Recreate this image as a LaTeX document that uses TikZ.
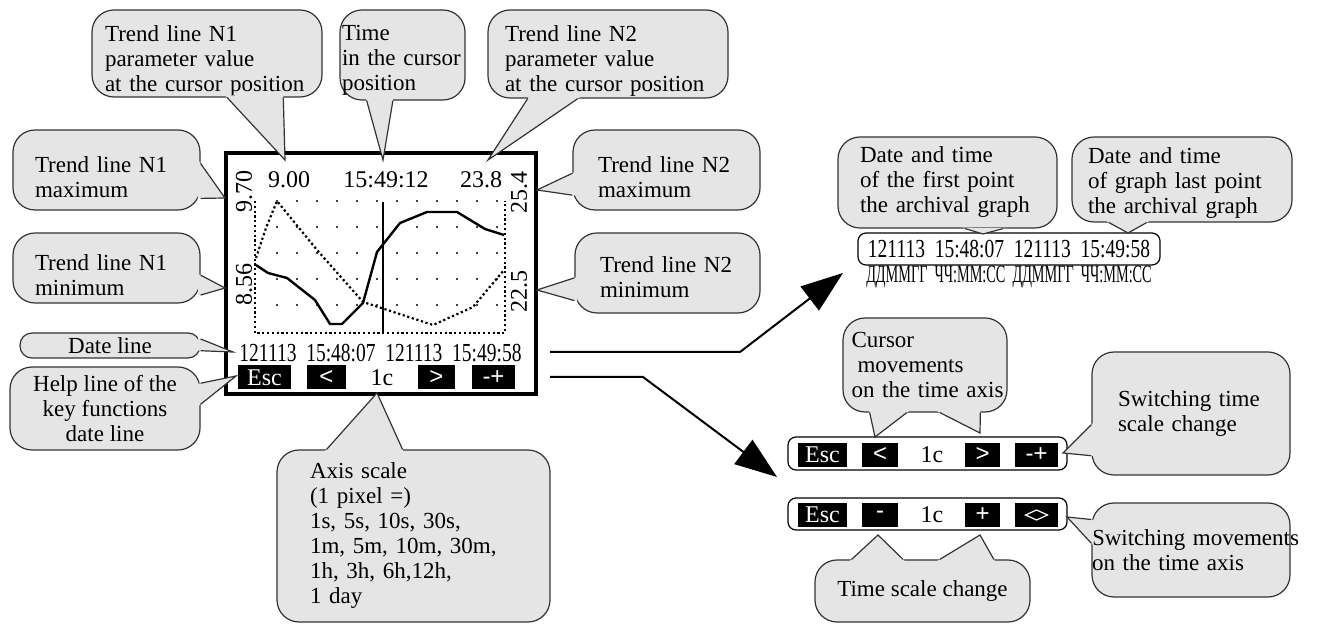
\documentclass[tikz,border=0pt]{standalone}
\usepackage{fontspec}
\setmainfont{Liberation Serif}
\newfontfamily\keyfont{Liberation Sans}
\usepackage{graphicx}
\usetikzlibrary{calc,arrows.meta}

\colorlet{bubblegray}{black!10}
\tikzset{
  bubble/.style={draw=black!80, fill=bubblegray, line width=0.6pt, rounded corners=11pt,
    inner sep=0pt, align=left, font=\fontsize{11.5}{12.5}\selectfont},
  keybox/.style={fill=black, text=white, inner sep=0pt, minimum height=12pt,
    font=\fontsize{12}{12}\selectfont},
  lcdtext/.style={inner sep=0pt, font=\fontsize{12}{12}\selectfont},
  lcddots/.style={line width=1.1pt, dash pattern=on 1.1pt off 1.3pt},
  panel/.style={draw, rounded corners=4pt, line width=0.6pt, inner sep=0pt},
  bigarrow/.style={line width=1pt, -{Triangle[length=21pt,width=15pt]}},
}
% pointer of a callout: edge from #1 to #2, base at fractions #3 and #4, tip #5
\newcommand{\bubbletail}[5]{%
  \coordinate (ta) at ($(#1)!#3!(#2)$);
  \coordinate (tb) at ($(#1)!#4!(#2)$);
  \fill[bubblegray] ($(ta)!-1.5pt!(#5)$) -- (#5) -- ($(tb)!-1.5pt!(#5)$) -- cycle;
  \draw[black!80, line width=0.6pt] (ta) -- (#5) -- (tb);
}
\newcommand{\pushdown}[1]{\rule{0pt}{#1}}
\newcommand{\datestamp}{\scalebox{0.75}[1]{\fontsize{13}{13}\selectfont 121113\ \ 15:48:07\ \ 121113\ \ 15:49:58}}

\begin{document}
\begin{tikzpicture}[x=0.5pt, y=-0.5pt]
\useasboundingbox (0,0) rectangle (1344,624);

% screen
\node[draw, line width=2pt, minimum width=155pt, minimum height=120.5pt, inner sep=0pt] (lcd) at (381,273.5) {};

\draw[lcddots] (255,201) -- (255,333) -- (505,333) -- (505,201);
\foreach \i in {0,...,11}
  \foreach \j in {0,...,4}
    \fill (277+20*\i,201+26*\j) circle (0.6pt);
\draw[line width=0.6pt] (383,202) -- (383,333);
\draw[line width=1.2pt, line join=round] plot coordinates {(256,265) (268,273) (287,278) (315,300)
  (330,324) (342,324) (363,303) (377,252) (400,223) (427,212) (457,212) (485,229) (504,235)};
\draw[lcddots] plot coordinates {(256,258) (266,228) (277,201) (317,250) (363,302) (433,325) (473,307) (504,270)};

\node[lcdtext] (val1txt) at (289,180) {9.00};
\node[lcdtext] (timetxt) at (386,180) {15:49:12};
\node[lcdtext] (val2txt) at (481,180) {23.8};
\node[lcdtext, rotate=90] (max1txt) at (244,192) {9.70};
\node[lcdtext, rotate=90] (min1txt) at (244,285) {8.56};
\node[lcdtext, rotate=90] (max2txt) at (519,193) {25.4};
\node[lcdtext, rotate=90] (min2txt) at (519,292) {22.5};
\node[inner sep=0pt] (stampa) at (380.5,353) {\datestamp};

\node[keybox, minimum width=26.5pt] (esca) at (264.5,377.5) {Esc};
\node[keybox, minimum width=19.5pt] (lefta) at (326.5,377.5) {\keyfont <};
\node[lcdtext] (scalea) at (382,377.5) {1c};
\node[keybox, minimum width=18.5pt] (righta) at (436.5,377.5) {\keyfont >};
\node[keybox, minimum width=21.5pt] (pma) at (493.5,377.5) {\keyfont -+};

% arrows to the right-hand parts
\coordinate (arrA) at (550,352);
\coordinate (arrAend) at (843,273);
\coordinate (arrB) at (550,377);
\coordinate (arrBend) at (777,477);
\draw[bigarrow] (arrA) -- (740,352) -- (arrAend);
\draw[bigarrow] (arrB) -- (643,377) -- (arrBend);

% date and time line
\node[panel, minimum width=151pt, minimum height=16pt] (stampb) at (1009,249) {\datestamp};
\node[inner sep=0pt] (fmt) at (1009,277) {\scalebox{0.57}[1]{\fontsize{12.5}{12.5}\selectfont ДДММГГ\ \ ЧЧ:ММ:СС\ \ ДДММГГ\ \ ЧЧ:ММ:СС}};

% key lines
\node[panel, minimum width=139.5pt, minimum height=16.5pt] (panelA) at (927.5,453.5) {};
\node[keybox, minimum width=24.5pt] (escb) at (822.5,455) {Esc};
\node[keybox, minimum width=18pt] (leftb) at (880,455) {\keyfont <};
\node[lcdtext] (scaleb) at (932,455) {1c};
\node[keybox, minimum width=17.5pt] (rightb) at (982.5,455) {\keyfont >};
\node[keybox, minimum width=21.5pt] (pmb) at (1036.5,455) {\keyfont -+};

\node[panel, minimum width=139.5pt, minimum height=16pt] (panelB) at (927.5,514) {};
\node[keybox, minimum width=24.5pt] (escc) at (822.5,515) {Esc};
\node[keybox, minimum width=18pt] (minusc) at (880,515) {\keyfont -};
\node[lcdtext] (scalec) at (932,515) {1c};
\node[keybox, minimum width=17.5pt] (plusc) at (982.5,515) {\keyfont +};
\node[keybox, minimum width=21.5pt] (swapc) at (1036.5,515) {};
\draw[white, line width=0.6pt] ($(swapc.center)+(-5.5pt,0)$) -- ++(5.5pt,2.5pt) -- ++(5.5pt,-2.5pt) -- ++(-5.5pt,-2.5pt) -- cycle;

% callouts
\node[bubble, minimum width=115pt, minimum height=43.5pt, text width=102pt] (val1) at (207,53.5) {\pushdown{15pt}Trend line N1\\parameter value\\at the cursor position};
\coordinate (pval1) at (285,160);
\bubbletail{val1.south west}{val1.south east}{0.587}{0.83}{pval1}

\node[bubble, minimum width=62.5pt, minimum height=45pt, text width=60.5pt] (timecur) at (402.5,55) {\pushdown{12.5pt}Time\\in the cursor\\position};
\coordinate (ptime) at (383,160);
\bubbletail{timecur.south west}{timecur.south east}{0.216}{0.424}{ptime}

\node[bubble, minimum width=120pt, minimum height=44pt, text width=103pt] (val2) at (608,54) {\pushdown{15pt}Trend line N2\\parameter value\\at the cursor position};
\coordinate (pval2) at (488,160);
\bubbletail{val2.south west}{val2.south east}{0.167}{0.375}{pval2}

\node[bubble, minimum width=93.5pt, minimum height=40pt, text width=71.5pt] (max1) at (106.5,170) {\pushdown{15pt}Trend line N1\\maximum};
\coordinate (pmax1) at (225,198);
\bubbletail{max1.north east}{max1.south east}{0.42}{0.85}{pmax1}

\node[bubble, minimum width=93.5pt, minimum height=35pt, text width=71.5pt] (min1) at (106.5,268) {\pushdown{15pt}Trend line N1\\minimum};
\coordinate (pmin1) at (225,288);
\bubbletail{min1.north east}{min1.south east}{0.6}{0.88}{pmin1}

\node[bubble, minimum width=93.5pt, minimum height=40pt, text width=68.5pt] (max2) at (666.5,170) {\pushdown{15pt}Trend line N2\\maximum};
\coordinate (pmax2) at (537,190);
\bubbletail{max2.north west}{max2.south west}{0.54}{0.81}{pmax2}

\node[bubble, minimum width=92.5pt, minimum height=40pt, text width=67.5pt] (min2) at (667.5,273) {\pushdown{12.5pt}Trend line N2\\minimum};
\coordinate (pmin2) at (537,290);
\bubbletail{min2.north west}{min2.south west}{0.56}{0.84}{pmin2}

\node[bubble, rounded corners=6pt, align=center, minimum width=90pt, minimum height=12.5pt] (dateln) at (110,345.5) {Date line};
\coordinate (pdate) at (233,352);
\bubbletail{dateln.north east}{dateln.south east}{0.25}{0.7}{pdate}

\node[bubble, align=center, minimum width=95pt, minimum height=41.5pt] (helpln) at (105,408.5) {Help line of the\\key functions\\date line};
\coordinate (phelp) at (236,376);
\bubbletail{helpln.north east}{helpln.south east}{0.2}{0.45}{phelp}

\node[bubble, minimum width=136.5pt, minimum height=86pt, text width=103.5pt] (axis) at (413.5,536) {Axis scale\\(1 pixel =)\\1s, 5s, 10s, 30s,\\1m, 5m, 10m, 30m,\\1h, 3h, 6h,12h,\\1 day};
\coordinate (pscale) at (377,393);
\bubbletail{axis.north west}{axis.north east}{0.183}{0.46}{pscale}

\node[bubble, minimum width=109.5pt, minimum height=45.5pt, text width=87.5pt] (first) at (947.5,182.5) {Date and time\\of the first point\\the archival graph};
\coordinate (pfirst) at (983,234);
\bubbletail{first.south west}{first.south east}{0.58}{0.753}{pfirst}

\node[bubble, minimum width=110pt, minimum height=42.5pt, text width=94pt] (last) at (1182,179.5) {\pushdown{11pt}Date and time\\of graph last point\\the archival graph};
\coordinate (plast) at (1128,233);
\bubbletail{last.south west}{last.south east}{0.17}{0.34}{plast}

\node[bubble, minimum width=82pt, minimum height=47pt, text width=73.5pt] (cursor) at (925,365) {Cursor\\\hspace*{3pt}movements\\\mbox{on the time axis}};
\coordinate (pleft) at (875,437);
\coordinate (pright) at (980,433);
\bubbletail{cursor.south west}{cursor.south east}{0.165}{0.39}{pleft}
\bubbletail{cursor.south west}{cursor.south east}{0.59}{0.835}{pright}

\node[bubble, minimum width=99pt, minimum height=61.5pt, text width=73pt] (swscale) at (1191,413.5) {Switching time\\scale change};
\coordinate (ppm) at (1063,453);
\bubbletail{swscale.north west}{swscale.south west}{0.59}{0.84}{ppm}

\node[bubble, minimum width=99pt, minimum height=47pt, text width=99pt] (swmove) at (1191,550) {\mbox{Switching movements}\\on the time axis};
\coordinate (pswap) at (1067,517);
\bubbletail{swmove.north west}{swmove.south west}{0.18}{0.43}{pswap}

\node[bubble, align=center, minimum width=107.5pt, minimum height=31pt] (tscale) at (922.5,591) {Time scale change};
\coordinate (pminus) at (878,535);
\coordinate (pplus) at (980,535);
\bubbletail{tscale.north west}{tscale.north east}{0.172}{0.41}{pminus}
\bubbletail{tscale.north west}{tscale.north east}{0.58}{0.83}{pplus}
\end{tikzpicture}
\end{document}
